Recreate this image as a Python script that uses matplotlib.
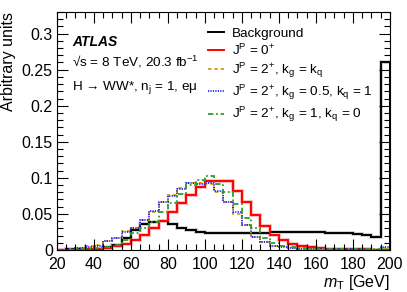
import numpy as np
import matplotlib
matplotlib.use("Agg")
import matplotlib.pyplot as plt
from matplotlib.ticker import MultipleLocator
from matplotlib.lines import Line2D

plt.rcParams['font.family'] = ['Liberation Sans', 'DejaVu Sans']
plt.rcParams['mathtext.fontset'] = 'custom'
plt.rcParams['mathtext.rm'] = 'Liberation Sans'
plt.rcParams['mathtext.it'] = 'Liberation Sans:italic'
plt.rcParams['mathtext.bf'] = 'Liberation Sans:bold'

# m_T bins, 5 GeV wide
bin_edges = np.arange(20, 205, 5)

background = [0.0005, 0.0008, 0.001, 0.0015, 0.002, 0.004, 0.007, 0.016, 0.028, 0.036,
              0.039, 0.040, 0.036, 0.031, 0.028, 0.025, 0.024, 0.023, 0.023, 0.023,
              0.023, 0.023, 0.024, 0.025, 0.025, 0.025, 0.025, 0.025, 0.025, 0.024,
              0.024, 0.023, 0.022, 0.021, 0.018, 0.260]
spin0 = [0.0, 0.0, 0.0005, 0.001, 0.002, 0.003, 0.005, 0.008, 0.014, 0.021,
         0.031, 0.040, 0.053, 0.065, 0.076, 0.087, 0.095, 0.095, 0.095, 0.082,
         0.066, 0.049, 0.033, 0.021, 0.014, 0.008, 0.0055, 0.004, 0.003, 0.002,
         0.0015, 0.001, 0.001, 0.0008, 0.0005, 0.0005]
spin2_kgkq = [0.0005, 0.001, 0.003, 0.005, 0.007, 0.012, 0.017, 0.026, 0.031, 0.042,
              0.053, 0.067, 0.076, 0.086, 0.093, 0.093, 0.092, 0.081, 0.066, 0.050,
              0.034, 0.018, 0.011, 0.006, 0.005, 0.003, 0.002, 0.0015, 0.001, 0.001,
              0.001, 0.0008, 0.0008, 0.0008, 0.0005, 0.003]
spin2_05_1 = [0.0005, 0.001, 0.003, 0.004, 0.006, 0.012, 0.016, 0.025, 0.031, 0.042,
              0.054, 0.066, 0.075, 0.084, 0.093, 0.092, 0.093, 0.082, 0.067, 0.052,
              0.035, 0.018, 0.0115, 0.0055, 0.004, 0.003, 0.002, 0.0015, 0.001, 0.001,
              0.001, 0.0008, 0.0008, 0.0008, 0.0005, 0.004]
spin2_1_0 = [0.0003, 0.0005, 0.001, 0.002, 0.003, 0.004, 0.007, 0.014, 0.024, 0.030,
             0.039, 0.052, 0.065, 0.077, 0.090, 0.097, 0.103, 0.092, 0.080, 0.064,
             0.045, 0.030, 0.017, 0.010, 0.006, 0.004, 0.003, 0.002, 0.002, 0.0015,
             0.001, 0.001, 0.001, 0.0008, 0.0008, 0.002]

labels = ["Background",
          r"J$^{\rm P}$ = 0$^{+}$",
          r"J$^{\rm P}$ = 2$^{+}$, k$_{\rm g}$ = k$_{\rm q}$",
          r"J$^{\rm P}$ = 2$^{+}$, k$_{\rm g}$ = 0.5, k$_{\rm q}$ = 1",
          r"J$^{\rm P}$ = 2$^{+}$, k$_{\rm g}$ = 1, k$_{\rm q}$ = 0"]

fig = plt.figure(figsize=(4.07, 2.92), dpi=100)
ax = fig.add_axes([0.140, 0.144, 0.818, 0.815])

# light uncertainty halos
ax.stairs(background, bin_edges, color="#c8c8c8", lw=2.6, baseline=None)
ax.stairs(spin0, bin_edges, color="#ffb0b0", lw=2.6, baseline=None)

ax.stairs(background, bin_edges, color="black", lw=1.4, baseline=None)
ax.stairs(spin0, bin_edges, color="#ff0000", lw=1.4, baseline=None)
ax.stairs(spin2_kgkq, bin_edges, color="#d4a017", lw=1.3, ls=(0, (2, 1.5)), baseline=None)
ax.stairs(spin2_05_1, bin_edges, color="#0000ff", lw=1.1, ls=(0, (0.8, 0.8)), baseline=None)
ax.stairs(spin2_1_0, bin_edges, color="#2e9e2e", lw=1.3, ls=(0, (3, 1.5, 1, 1.5)), baseline=None)
# last background bin edge at 200
ax.vlines(200, 0, background[-1], color="black", lw=1.4)

ax.set_xlim(20, 200)
ax.set_ylim(0, 0.33)
ax.xaxis.set_major_locator(MultipleLocator(20))
ax.xaxis.set_minor_locator(MultipleLocator(5))
ax.yaxis.set_minor_locator(MultipleLocator(0.01))
ax.set_yticks([0, 0.05, 0.1, 0.15, 0.2, 0.25, 0.3])
ax.set_yticklabels(["0", "0.05", "0.1", "0.15", "0.2", "0.25", "0.3"])
ax.tick_params(which="both", direction="in", top=True, right=True, labelsize=11.5)
ax.tick_params(which="major", length=8, width=0.8)
ax.tick_params(which="minor", length=4, width=0.8)
ax.tick_params(axis="x", pad=5)
ax.tick_params(axis="y", pad=3)

ax.set_xlabel(r"$m_{\rm T}$ [GeV]", fontsize=11.5, ha="right", x=1.0, labelpad=1)
ax.set_ylabel("Arbitrary units", fontsize=11.5, ha="right", y=1.0, labelpad=4)

# text block, positions in figure pixels from the top
fig.text(72 / 407, 1 - 42 / 292, "ATLAS", fontsize=10, fontweight="bold",
         fontstyle="italic", va="center")
fig.text(72 / 407, 1 - 62 / 292, "√s = 8 TeV, 20.3 fb$^{-1}$", fontsize=9.7, va="center")
fig.text(72 / 407, 1 - 87 / 292, r"H → WW*, n$_{\rm j}$ = 1, eμ", fontsize=9.7, va="center")

handles = [Line2D([], [], color="black", lw=1.4),
           Line2D([], [], color="#ff0000", lw=1.4),
           Line2D([], [], color="#d4a017", lw=1.3, ls=(0, (2, 1.5))),
           Line2D([], [], color="#0000ff", lw=1.1, ls=(0, (0.8, 0.8))),
           Line2D([], [], color="#2e9e2e", lw=1.3, ls=(0, (3, 1.5, 1, 1.5)))]
ax.legend(handles, labels, loc="upper left", bbox_to_anchor=(0.425, 0.975), frameon=False,
          fontsize=9.7, handlelength=1.2, handletextpad=0.6, labelspacing=0.22,
          borderaxespad=0.3)

fig.savefig("out.png", dpi=100)
